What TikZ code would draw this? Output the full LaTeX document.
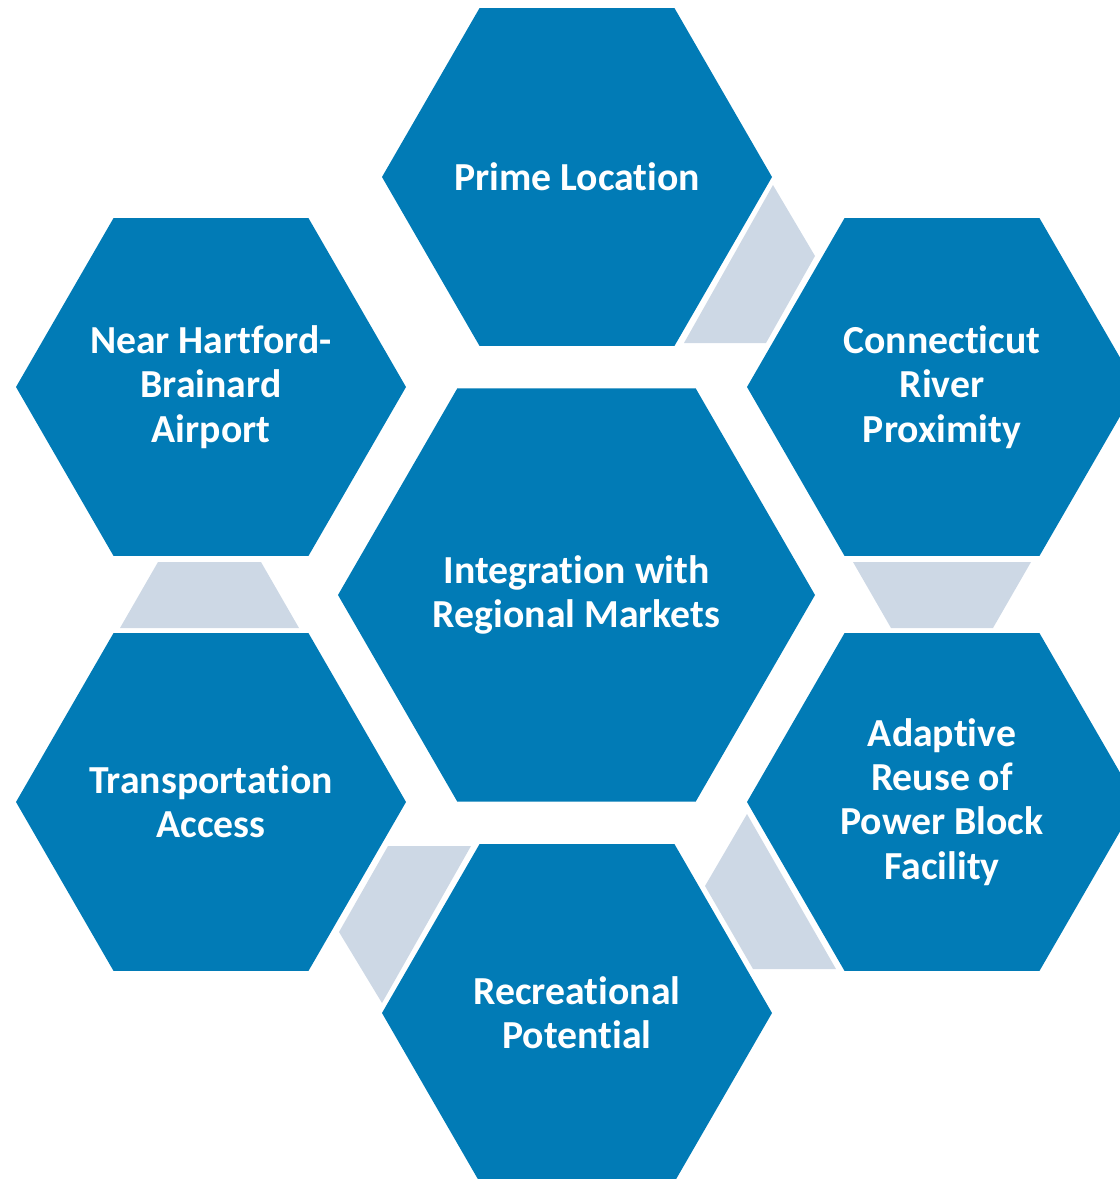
\documentclass[tikz,border=0pt]{standalone}
\usepackage{fontspec}
\setmainfont[Ligatures=NoCommon]{Carlito}
\usetikzlibrary{shapes.geometric}
\definecolor{hexblue}{RGB}{1,123,182}
\definecolor{linkgray}{RGB}{205,216,229}
\begin{document}
\begin{tikzpicture}[x=0.75pt,y=-0.75pt,
  hexcell/.style={regular polygon, regular polygon sides=6, fill=hexblue,
    draw=none, inner sep=0pt, outer sep=0pt, minimum size=292.5pt},
  bighex/.style={hexcell, minimum size=357.75pt},
  celltext/.style={text=white, inner sep=0pt, align=center,
    font=\bfseries\fontsize{29.8}{33.2}\selectfont},
  link/.style={fill=linkgray, draw=none}]
\useasboundingbox (0,0) rectangle (1120,1179);

% light connecting plates between neighbouring cells
\fill[link] (684,343) -- (773,185) -- (815,256) -- (766,343) -- cycle;
\fill[link] (158,562) -- (261,562) -- (299,628) -- (120,628) -- cycle;
\fill[link] (853,562) -- (1031,562) -- (993,628) -- (891,628) -- cycle;
\fill[link] (747,814) -- (705,886) -- (753,969) -- (836,969) -- cycle;
\fill[link] (388,846) -- (471,846) -- (382,1003) -- (339,932) -- cycle;

% hexagonal cells
\node[bighex] (core) at (576.5,595) {};
\node[hexcell] (prime) at (577,177) {};
\node[hexcell] (airport) at (211,387) {};
\node[hexcell] (river) at (942,387) {};
\node[hexcell] (reuse) at (942,802) {};
\node[hexcell] (transport) at (211,802) {};
\node[hexcell] (recreation) at (577,1013) {};

% cell captions
\node[celltext] (core-t) at (core) {Integration with\\Regional Markets};
\node[celltext] (prime-t) at (prime) {Prime Location};
\node[celltext] (airport-t) at (airport) {Near Hartford-\\Brainard\\Airport};
\node[celltext] (river-t) at (river) {Connecticut\\River\\Proximity};
\node[celltext] (reuse-t) at (reuse) {Adaptive\\Reuse of\\Power Block\\Facility};
\node[celltext] (transport-t) at (transport) {Transportation\\Access};
\node[celltext] (recreation-t) at (recreation) {Recreational\\Potential};
\end{tikzpicture}
\end{document}
